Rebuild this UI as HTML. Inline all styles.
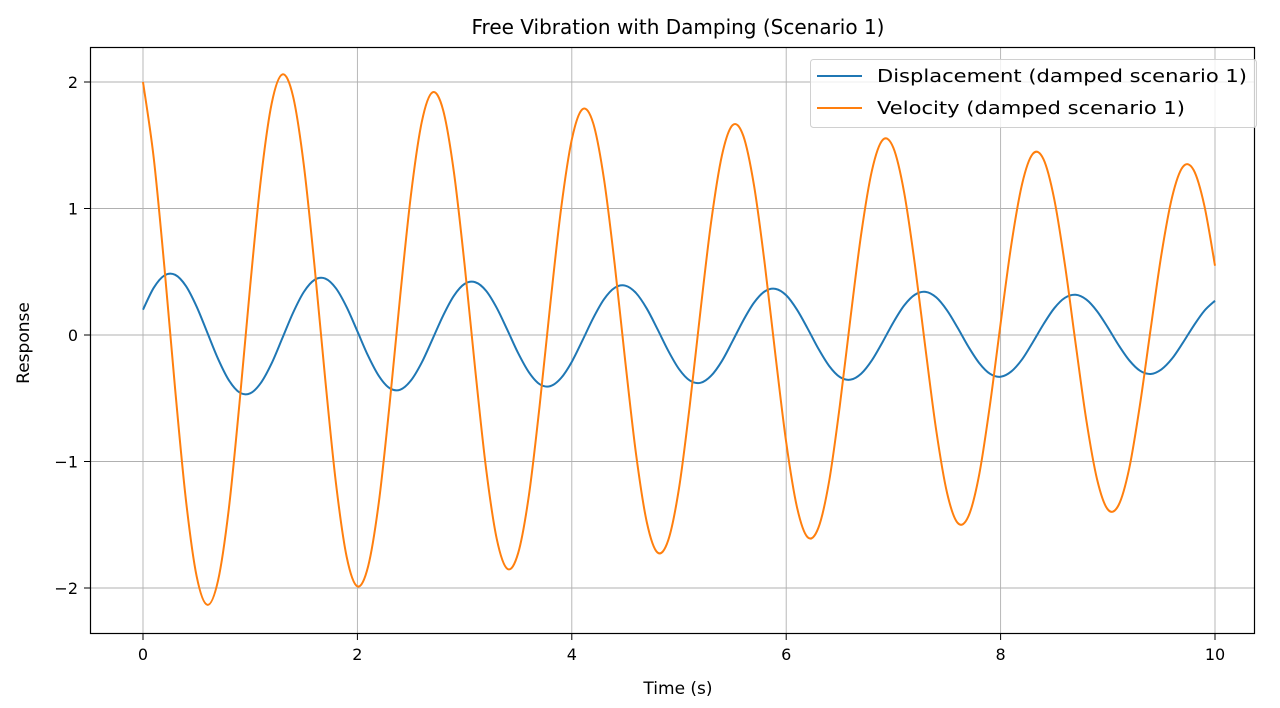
<!DOCTYPE html>
<html><head><meta charset="utf-8"><style>
body{margin:0;background:#fff;}
svg{display:block;font-family:"DejaVu Sans","Liberation Sans",sans-serif;}
</style></head><body>
<svg id="chart" width="1280" height="708">
<rect x="0" y="0" width="1280" height="708" fill="#fff"/>
<text x="678" y="34" font-size="20" text-anchor="middle" fill="#000">Free Vibration with Damping (Scenario 1)</text>
<g id="grid"></g>
<g id="series"></g>
<rect x="90.5" y="47.5" width="1164" height="586" fill="none" stroke="#000" stroke-width="1.2"/>
<g id="ticks"></g>
<text x="678" y="694" font-size="17" text-anchor="middle">Time (s)</text>
<text transform="translate(29,343) rotate(-90)" font-size="17" text-anchor="middle">Response</text>
<g>
<rect x="810.5" y="59.5" width="446" height="68" rx="3" fill="#fff" fill-opacity="0.8" stroke="#d0d0d0"/>
<line x1="817" y1="76" x2="862" y2="76" stroke="#1f77b4" stroke-width="2"/>
<text x="877" y="82" font-size="18" textLength="370" lengthAdjust="spacingAndGlyphs">Displacement (damped scenario 1)</text>
<line x1="817" y1="108" x2="862" y2="108" stroke="#ff7f0e" stroke-width="2"/>
<text x="877" y="114" font-size="18" textLength="308" lengthAdjust="spacingAndGlyphs">Velocity (damped scenario 1)</text>
</g>
</svg>
<script>
const tStep = 0.1;
const displacement = [0.200,0.373,0.471,0.476,0.388,0.225,0.019,-0.188,-0.356,-0.454,-0.461,-0.378,-0.224,-0.025,
0.176,0.340,0.436,0.446,0.369,0.220,0.029,-0.165,-0.324,-0.420,-0.432,-0.359,-0.218,-0.034,
0.154,0.310,0.404,0.417,0.350,0.214,0.038,-0.144,-0.295,-0.389,-0.404,-0.340,-0.212,-0.042,
0.134,0.282,0.373,0.390,0.331,0.208,0.045,-0.125,-0.269,-0.359,-0.378,-0.322,-0.206,-0.048,
0.116,0.256,0.345,0.365,0.314,0.201,0.051,-0.108,-0.244,-0.332,-0.353,-0.305,-0.199,-0.054,
0.100,0.233,0.318,0.341,0.297,0.195,0.056,-0.093,-0.221,-0.306,-0.330,-0.288,-0.193,-0.058,
0.085,0.211,0.294,0.318,0.280,0.188,0.060,-0.079,-0.200,-0.282,-0.308,-0.272,-0.186,-0.062,
0.072,0.191,0.271];
const velocity = [2.000,1.400,0.533,-0.430,-1.301,-1.906,-2.133,-1.941,-1.378,-0.540,0.389,1.234,1.829,2.060,
1.886,1.345,0.546,-0.351,-1.172,-1.754,-1.987,-1.829,-1.322,-0.551,0.315,1.111,1.682,1.918,
1.777,1.289,0.555,-0.281,-1.054,-1.612,-1.849,-1.723,-1.267,-0.558,0.248,0.998,1.545,1.785,
1.673,1.234,0.560,-0.218,-0.946,-1.481,-1.720,-1.621,-1.212,-0.561,0.189,0.895,1.418,1.659,
1.574,1.181,0.561,-0.162,-0.848,-1.359,-1.599,-1.525,-1.158,-0.560,0.137,0.801,1.301,1.542,
1.479,1.128,0.559,-0.113,-0.757,-1.246,-1.486,-1.433,-1.105,-0.557,0.090,0.714,1.192,1.432,
1.390,1.076,0.555,-0.069,-0.675,-1.141,-1.379,-1.346,-1.054,-0.552,0.049,0.636,1.091,1.329,
1.305,1.025,0.548];
const xTicks = [0,2,4,6,8,10];
const yTicks = [-2,-1,0,1,2];
const xTickLabels = ["0","2","4","6","8","10"];
const yTickLabels = ["\u22122","\u22121","0","1","2"];

const NS="http://www.w3.org/2000/svg";
const X0=143, X1=1215, Y0=335, YU=126.5;
function sx(t){return X0+(X1-X0)*t/10;}
function sy(v){return Y0-v*YU;}
const grid=document.getElementById('grid'), ticks=document.getElementById('ticks'), series=document.getElementById('series');
function mk(tag,attrs,parent){const e=document.createElementNS(NS,tag);for(const k in attrs)e.setAttribute(k,attrs[k]);parent.appendChild(e);return e;}
xTicks.forEach((t,i)=>{
  const x=sx(t);
  const g=mk('line',{x1:x,y1:48,x2:x,y2:633,stroke:'#b0b0b0','stroke-width':0.9},grid);
  
  
  const tk=mk('line',{x1:x,y1:634,x2:x,y2:640,stroke:'#000','stroke-width':1},ticks);
  
  
  const lb=mk('text',{x:x,y:660,'font-size':16,'text-anchor':'middle'},ticks);
  lb.textContent=xTickLabels[i];
  
  
});
yTicks.forEach((v,i)=>{
  const y=sy(v);
  const g=mk('line',{x1:91,y1:y,x2:1254,y2:y,stroke:'#b0b0b0','stroke-width':0.9},grid);
  
  
  const tk=mk('line',{x1:84,y1:y,x2:90,y2:y,stroke:'#000','stroke-width':1},ticks);
  
  
  const lb=mk('text',{x:78,y:y+6,'font-size':16,'text-anchor':'end'},ticks);
  lb.textContent=yTickLabels[i];
  
  
});
function pathFor(vals){
  const p=vals.map((v,i)=>[sx(i*tStep),sy(v)]);
  let d='M'+p[0][0].toFixed(2)+','+p[0][1].toFixed(2);
  for(let i=0;i<p.length-1;i++){
    const a=p[Math.max(i-1,0)],b=p[i],c=p[i+1],e=p[Math.min(i+2,p.length-1)];
    const c1=[b[0]+(c[0]-a[0])/6,b[1]+(c[1]-a[1])/6];
    const c2=[c[0]-(e[0]-b[0])/6,c[1]-(e[1]-b[1])/6];
    d+='C'+c1[0].toFixed(2)+','+c1[1].toFixed(2)+' '+c2[0].toFixed(2)+','+c2[1].toFixed(2)+' '+c[0].toFixed(2)+','+c[1].toFixed(2);
  }
  return d;
}
const pd=mk('path',{d:pathFor(displacement),fill:'none',stroke:'#1f77b4','stroke-width':2},series);


const pv=mk('path',{d:pathFor(velocity),fill:'none',stroke:'#ff7f0e','stroke-width':2},series);


</script>
</body></html>
